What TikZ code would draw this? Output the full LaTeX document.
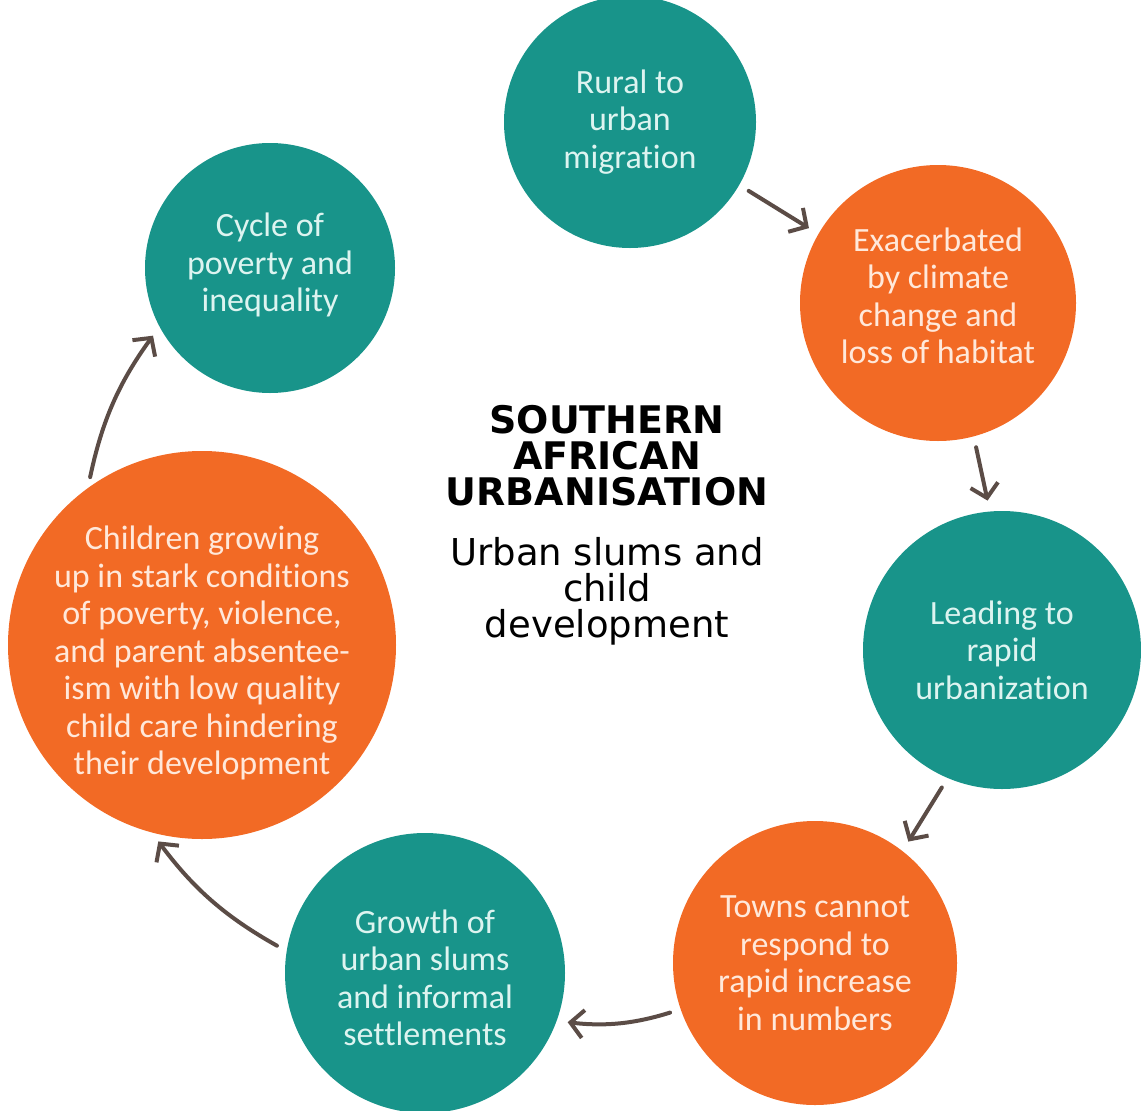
\documentclass[tikz,border=0pt]{standalone}
\usepackage{fontspec}
\setmainfont{Carlito}[Ligatures=NoCommon]
\newfontfamily\titulofont{DejaVu Sans}
\usepackage{tikz}
\usetikzlibrary{arrows.meta}
\usetikzlibrary{positioning}
\definecolor{verde}{HTML}{18948A}
\definecolor{naranja}{HTML}{F26A25}
\definecolor{flecha}{HTML}{5B4C46}
\definecolor{textoverde}{HTML}{DDF4F0}
\definecolor{textonaranja}{HTML}{FFE8DA}

\begin{document}
\begin{tikzpicture}[x=1pt,y=-1pt,
        bola/.style={circle,inner sep=0pt},
        bolaverde/.style={bola,fill=verde},
        bolanaranja/.style={bola,fill=naranja},
        texto/.style={align=center,inner sep=0pt,font=\fontsize{34}{37.5}\selectfont},
        textoverde/.style={texto,text=textoverde},
        textonaranja/.style={texto,text=textonaranja},
        flechas/.style={draw=flecha,line width=4pt,line cap=round,
            -{Straight Barb[length=13pt,width=28pt]},shorten <=11pt,shorten >=11pt}]
        \useasboundingbox (0,0) rectangle (1141,1111);

        % Nodos del ciclo
        \node[bolaverde,minimum size=252pt] (rural) at (630,122) {};
        \node[bolanaranja,minimum size=276pt] (clima) at (938,303) {};
        \node[bolaverde,minimum size=278pt] (urbanizacion) at (1002,650) {};
        \node[bolanaranja,minimum size=284pt] (ciudades) at (815,963) {};
        \node[bolaverde,minimum size=280pt] (tugurios) at (425,973) {};
        \node[bolanaranja,minimum size=388pt] (ninos) at (202,645) {};
        \node[bolaverde,minimum size=250pt] (pobreza) at (270,268) {};

        % Textos de los nodos
        \node[textoverde] (trural) at (rural) {Rural to\\urban\\migration};
        \node[textonaranja] (tclima) at ([yshift=7pt]clima) {Exacerbated\\by climate\\change and\\loss of habitat};
        \node[textoverde] (turbanizacion) at (urbanizacion) {Leading to\\rapid\\urbanization};
        \node[textonaranja] (tciudades) at (ciudades) {Towns cannot\\respond to\\rapid increase\\in numbers};
        \node[textoverde] (ttugurios) at ([yshift=-5pt]tugurios) {Growth of\\urban slums\\and informal\\settlements};
        \node[textonaranja] (tninos) at ([yshift=-8pt]ninos) {Children growing\\up in stark conditions\\of poverty, violence,\\and parent absentee-\\ism with low quality\\child care hindering\\their development};
        \node[textoverde] (tpobreza) at ([yshift=3pt]pobreza) {Cycle of\\poverty and\\inequality};

        % Titulo central
        \node[align=center,font=\titulofont\bfseries\fontsize{38}{36}\selectfont] (titulo) at (607,456) {SOUTHERN\\AFRICAN\\URBANISATION};
        \node[align=center,font=\titulofont\fontsize{37}{36}\selectfont] (subtitulo) at (607,591) {Urban slums and\\child\\development};

        % Flechas
        \draw[flechas] (rural.-30) -- (clima.150);
        \draw[flechas] (clima.-75) -- (urbanizacion.95);
        \draw[flechas] (urbanizacion.-113) -- (ciudades.52);
        \draw[flechas] (ciudades.-161) to[bend left=12] (tugurios.-20);
        \draw[flechas] (tugurios.171) to[bend left=12] (ninos.-105);
        \draw[flechas] (ninos.126) to[bend left=12] (pobreza.-152);
    \end{tikzpicture}
\end{document}
